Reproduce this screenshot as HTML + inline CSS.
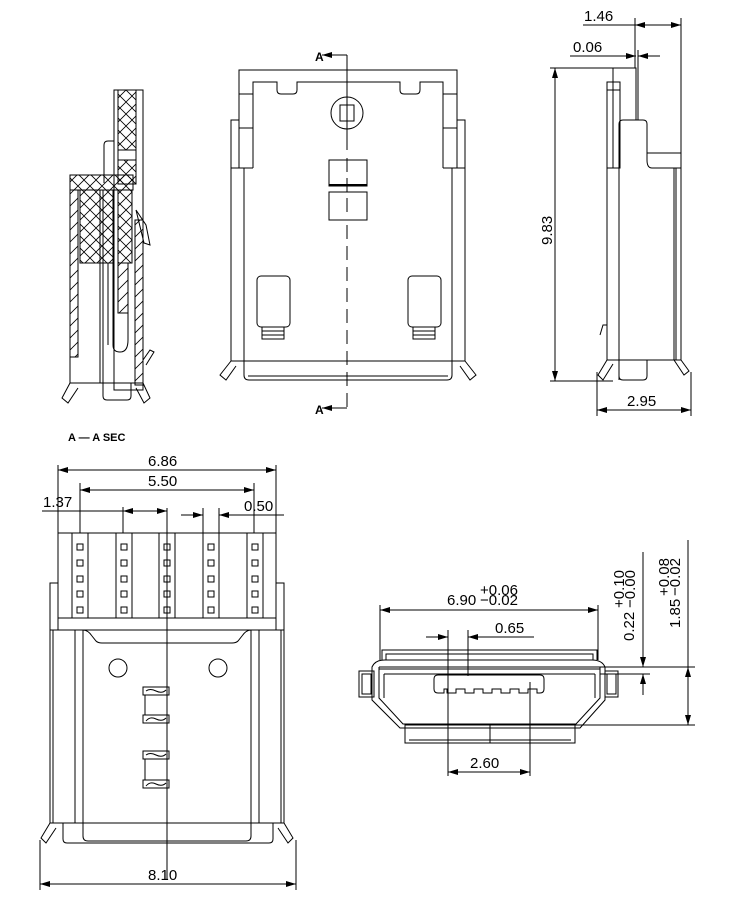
<!DOCTYPE html>
<html><head><meta charset="utf-8"><style>
html,body{margin:0;padding:0;background:#fff;}
svg{display:block;}
text{font-family:"Liberation Sans",sans-serif;fill:#000;}
</style></head><body>
<svg width="750" height="899" viewBox="0 0 750 899" xmlns="http://www.w3.org/2000/svg">
<defs>
<pattern id="xh" width="12" height="12" patternUnits="userSpaceOnUse">
<path d="M0 0L12 12M12 0L0 12" stroke="#000" stroke-width="0.8"/>
</pattern>
<pattern id="dh" width="12" height="12" patternUnits="userSpaceOnUse">
<path d="M0 12L12 0M-3 3L3 -3M9 15L15 9" stroke="#000" stroke-width="0.8"/>
</pattern>
<marker id="ar" viewBox="0 0 10 6" refX="10" refY="3" markerWidth="10" markerHeight="6" orient="auto-start-reverse" markerUnits="userSpaceOnUse">
<path d="M0 0L10 3L0 6z" fill="#000"/>
</marker>
</defs>
<g fill="none" stroke="#000" stroke-width="1">

<!-- ===== Left section view ===== -->
<rect x="114" y="90" width="29" height="300"/>
<rect x="118" y="90" width="18" height="60" fill="url(#xh)"/>
<rect x="118" y="150" width="18" height="10"/>
<rect x="118" y="160" width="18" height="24" fill="url(#xh)"/>
<path d="M104 183V145Q104 141 108 141H114"/>
<rect x="70" y="175" width="63" height="15" fill="url(#xh)"/>
<rect x="80" y="190" width="33" height="73" fill="url(#xh)"/>
<rect x="118" y="190" width="14" height="73" fill="url(#xh)"/>
<rect x="70" y="190" width="8" height="167" fill="url(#dh)"/>
<rect x="135" y="220" width="8" height="165" fill="url(#dh)"/>
<path d="M136 210L146 225L150 245L144 243Z"/>
<line x1="100" y1="190" x2="100" y2="383"/>
<line x1="103" y1="190" x2="103" y2="383"/>
<rect x="118" y="263" width="10" height="50" fill="url(#dh)"/>
<path d="M113 263V345Q113 352 120 352Q128 352 128 340V263"/>
<line x1="108" y1="263" x2="108" y2="345"/>
<path d="M70 357V383H143"/>
<path d="M103 383V396Q103 400 107 400H127Q131 400 131 396V383"/>
<path d="M70 383L62 398L68 403L78 388"/>
<path d="M143 383L150 398L144 403L136 388"/>
<path d="M143 360L150 350L154 352L146 365"/>

<text x="68" y="441" font-size="11" font-weight="bold" stroke="none">A  —  A SEC</text>

<!-- ===== Top middle view ===== -->
<path d="M239 168V70H457V168"/>
<path d="M253 168V82H277V90Q277 94 281 94H293Q297 94 297 90V82H400V90Q400 94 404 94H416Q420 94 420 90V82H443V168"/>
<line x1="239" y1="94" x2="253" y2="94"/>
<line x1="443" y1="94" x2="457" y2="94"/>
<line x1="239" y1="128" x2="253" y2="128"/>
<line x1="443" y1="128" x2="457" y2="128"/>
<path d="M231 361V120H239"/>
<path d="M465 361V120H457"/>
<line x1="231" y1="168" x2="253" y2="168"/>
<line x1="443" y1="168" x2="465" y2="168"/>
<path d="M244 168V375Q244 380 249 380H447Q452 380 452 375V168"/>
<line x1="231" y1="361" x2="465" y2="361"/>
<line x1="248" y1="376" x2="448" y2="376"/>
<circle cx="347" cy="113" r="16"/>
<rect x="340" y="105" width="14" height="16"/>
<rect x="329" y="160" width="38" height="26"/>
<line x1="329" y1="185" x2="367" y2="185" stroke-width="2"/>
<rect x="329" y="192" width="38" height="28"/>
<rect x="257" y="276" width="33" height="51" rx="4"/>
<rect x="262" y="327" width="22" height="12"/>
<line x1="262" y1="331" x2="284" y2="331"/>
<line x1="262" y1="335" x2="284" y2="335"/>
<rect x="408" y="276" width="33" height="51" rx="4"/>
<rect x="413" y="327" width="22" height="12"/>
<line x1="413" y1="331" x2="435" y2="331"/>
<line x1="413" y1="335" x2="435" y2="335"/>
<path d="M231 361L220 375L226 380L236 366"/>
<path d="M465 361L476 375L470 380L460 366"/>
<line x1="347" y1="55" x2="347" y2="150"/>
<line x1="347" y1="158" x2="347" y2="215" stroke-dasharray="14 6"/>
<line x1="347" y1="225" x2="347" y2="408" stroke-dasharray="14 7"/>
<line x1="347" y1="55" x2="322" y2="55" marker-end="url(#ar)"/>
<line x1="347" y1="408" x2="322" y2="408" marker-end="url(#ar)"/>

<!-- ===== Top right side view ===== -->
<line x1="583" y1="25" x2="681" y2="25"/>
<line x1="635" y1="25" x2="681" y2="25" marker-start="url(#ar)" marker-end="url(#ar)"/>
<line x1="635" y1="18" x2="635" y2="68"/>
<line x1="681" y1="18" x2="681" y2="153"/>
<line x1="570" y1="56" x2="636" y2="56" marker-end="url(#ar)"/>
<line x1="660" y1="56" x2="638" y2="56" marker-end="url(#ar)"/>
<line x1="638" y1="50" x2="638" y2="120"/>
<line x1="550" y1="68" x2="613" y2="68"/>
<line x1="550" y1="381" x2="613" y2="381"/>
<line x1="555" y1="68" x2="555" y2="381" marker-start="url(#ar)" marker-end="url(#ar)"/>
<path d="M613 168V68H636V120"/>
<rect x="607" y="82" width="13" height="86"/>
<line x1="607" y1="90" x2="620" y2="90"/>
<line x1="620" y1="90" x2="620" y2="168"/>
<path d="M619 380V124Q619 120 623 120H643Q647 120 647 124V160Q647 168 652 168H681V153H647"/>
<path d="M607 168V360H681V168"/>
<line x1="674" y1="168" x2="674" y2="360"/>
<line x1="676" y1="168" x2="676" y2="360"/>
<path d="M619 360V376Q619 380 623 380H643Q647 380 647 376V360"/>
<path d="M600 335L603 325H607"/>
<path d="M607 360L598 375L603 380L613 364"/>
<path d="M674 360L684 375L689 371L681 360"/>
<line x1="597" y1="372" x2="597" y2="416"/>
<line x1="691" y1="372" x2="691" y2="416"/>
<line x1="597" y1="410" x2="691" y2="410" marker-start="url(#ar)" marker-end="url(#ar)"/>

<!-- ===== Bottom left view ===== -->
<line x1="58" y1="465" x2="58" y2="533"/>
<line x1="276" y1="465" x2="276" y2="533"/>
<line x1="58" y1="470" x2="276" y2="470" marker-start="url(#ar)" marker-end="url(#ar)"/>
<line x1="80" y1="483" x2="80" y2="533"/>
<line x1="254" y1="483" x2="254" y2="533"/>
<line x1="80" y1="490" x2="254" y2="490" marker-start="url(#ar)" marker-end="url(#ar)"/>
<line x1="42" y1="511" x2="123" y2="511"/>
<line x1="145" y1="511" x2="123" y2="511" marker-end="url(#ar)"/>
<line x1="145" y1="511" x2="167" y2="511" marker-end="url(#ar)"/>
<line x1="123" y1="507" x2="123" y2="533"/>
<line x1="167" y1="508" x2="167" y2="880"/>
<line x1="181" y1="515" x2="203" y2="515" marker-end="url(#ar)"/>
<line x1="241" y1="515" x2="219" y2="515" marker-end="url(#ar)"/>
<line x1="219" y1="515" x2="284" y2="515"/>
<line x1="203" y1="508" x2="203" y2="533"/>
<line x1="219" y1="508" x2="219" y2="533"/>
<rect x="58" y="533" width="218" height="85"/>
<line x1="58" y1="618" x2="58" y2="630"/>
<line x1="276" y1="618" x2="276" y2="630"/>
<rect x="50" y="583" width="8" height="47"/>
<rect x="276" y="583" width="8" height="47"/>
<g>
<rect x="72" y="533" width="16" height="85"/><rect x="116" y="533" width="16" height="85"/><rect x="159" y="533" width="16" height="85"/><rect x="203" y="533" width="16" height="85"/><rect x="247" y="533" width="16" height="85"/>
</g>
<g stroke-width="1">
<rect x="77" y="544" width="6" height="6"/><rect x="77" y="560" width="6" height="6"/><rect x="77" y="576" width="6" height="6"/><rect x="77" y="591" width="6" height="6"/><rect x="77" y="607" width="6" height="6"/>
<rect x="121" y="544" width="6" height="6"/><rect x="121" y="560" width="6" height="6"/><rect x="121" y="576" width="6" height="6"/><rect x="121" y="591" width="6" height="6"/><rect x="121" y="607" width="6" height="6"/>
<rect x="164" y="544" width="6" height="6"/><rect x="164" y="560" width="6" height="6"/><rect x="164" y="576" width="6" height="6"/><rect x="164" y="591" width="6" height="6"/><rect x="164" y="607" width="6" height="6"/>
<rect x="208" y="544" width="6" height="6"/><rect x="208" y="560" width="6" height="6"/><rect x="208" y="576" width="6" height="6"/><rect x="208" y="591" width="6" height="6"/><rect x="208" y="607" width="6" height="6"/>
<rect x="252" y="544" width="6" height="6"/><rect x="252" y="560" width="6" height="6"/><rect x="252" y="576" width="6" height="6"/><rect x="252" y="591" width="6" height="6"/><rect x="252" y="607" width="6" height="6"/>
</g>
<line x1="50" y1="630" x2="284" y2="630"/>
<line x1="50" y1="630" x2="50" y2="823"/>
<line x1="53" y1="630" x2="53" y2="823"/>
<line x1="284" y1="630" x2="284" y2="823"/>
<line x1="281" y1="630" x2="281" y2="823"/>
<line x1="75" y1="630" x2="75" y2="823"/>
<line x1="259" y1="630" x2="259" y2="823"/>
<path d="M83 823V630Q88 630 92 636L96 641Q98 643 102 643H232Q236 643 238 641L242 636Q246 630 251 630V823"/>
<circle cx="118" cy="668" r="9"/>
<circle cx="218" cy="668" r="9"/>
<rect x="143" y="687" width="26" height="8"/>
<rect x="143" y="715" width="26" height="8"/>
<rect x="143" y="751" width="26" height="8"/>
<rect x="143" y="780" width="26" height="8"/>
<line x1="145" y1="695" x2="145" y2="715"/>
<line x1="145" y1="759" x2="145" y2="780"/>
<path d="M146 691Q150 688 156 691Q162 694 166 690"/>
<path d="M146 721Q150 716 156 719Q162 722 166 718"/>
<path d="M146 755Q150 752 156 755Q162 758 166 754"/>
<path d="M146 786Q150 781 156 784Q162 787 166 783"/>
<line x1="50" y1="823" x2="284" y2="823"/>
<path d="M63 823V839Q63 843 67 843H269Q273 843 273 839V823"/>
<path d="M83 823V836Q83 841 88 841H246Q251 841 251 836V823"/>
<path d="M50 823L41 838L46 843L56 828"/>
<path d="M284 823L293 838L288 843L278 828"/>
<line x1="40" y1="840" x2="40" y2="890"/>
<line x1="296" y1="840" x2="296" y2="890"/>
<line x1="40" y1="884" x2="296" y2="884" marker-start="url(#ar)" marker-end="url(#ar)"/>

<!-- ===== Bottom right view ===== -->
<line x1="380" y1="605" x2="380" y2="660"/>
<line x1="598" y1="605" x2="598" y2="660"/>
<line x1="380" y1="610" x2="598" y2="610" marker-start="url(#ar)" marker-end="url(#ar)"/>
<line x1="426" y1="637" x2="448" y2="637" marker-end="url(#ar)"/>
<line x1="534" y1="637" x2="468" y2="637" marker-end="url(#ar)"/>
<line x1="448" y1="630" x2="448" y2="776"/>
<line x1="468" y1="630" x2="468" y2="676"/>
<line x1="530" y1="682" x2="530" y2="776"/>
<line x1="448" y1="772" x2="530" y2="772" marker-start="url(#ar)" marker-end="url(#ar)"/>
<path d="M382 660V650H597V660"/>
<path d="M386 660V654H593V660"/>
<path d="M372 667Q375 660 385 660H592Q602 660 605 667V700L580 728H400L372 700Z"/>
<path d="M379 667V698L403 724H576L600 698V667"/>
<line x1="379" y1="667" x2="600" y2="667"/>
<line x1="379" y1="669" x2="600" y2="669"/>
<line x1="384" y1="674" x2="595" y2="674"/>
<line x1="384" y1="674" x2="384" y2="698"/>
<line x1="595" y1="674" x2="595" y2="698"/>
<rect x="359" y="671" width="15" height="26"/>
<rect x="362" y="674" width="9" height="20"/>
<rect x="605" y="671" width="13" height="26"/>
<rect x="607" y="674" width="9" height="20"/>
<rect x="405" y="725" width="170" height="18"/>
<line x1="409" y1="740" x2="571" y2="740"/>
<line x1="490" y1="725" x2="490" y2="743"/>
<path d="M438 675H540Q544 675 544 679V689Q544 693 540 693H537V689H528V693H519V689H510V693H501V689H492V693H483V689H474V693H465V689H456V693H447V689H444V693H438Q434 693 434 689V679Q434 675 438 675Z"/>
<line x1="600" y1="667" x2="695" y2="667"/>
<line x1="600" y1="674" x2="650" y2="674"/>
<line x1="575" y1="725" x2="695" y2="725"/>
<line x1="643" y1="552" x2="643" y2="667" marker-end="url(#ar)"/>
<line x1="643" y1="695" x2="643" y2="674" marker-end="url(#ar)"/>
<line x1="688" y1="540" x2="688" y2="667"/>
<line x1="688" y1="667" x2="688" y2="725" marker-start="url(#ar)" marker-end="url(#ar)"/>
</g>

<!-- ===== Texts ===== -->
<g stroke="none">
<text x="315" y="61" font-size="12" font-weight="bold">A</text>
<text x="315" y="414" font-size="12" font-weight="bold">A</text>
<text x="584" y="21" font-size="15">1.46</text>
<text x="573" y="52" font-size="15">0.06</text>
<text transform="translate(552,245) rotate(-90)" font-size="15">9.83</text>
<text x="627" y="406" font-size="15">2.95</text>
<text x="148" y="466" font-size="15">6.86</text>
<text x="148" y="486" font-size="15">5.50</text>
<text x="43" y="507" font-size="15">1.37</text>
<text x="244" y="511" font-size="15">0.50</text>
<text x="148" y="880" font-size="15">8.10</text>
<text x="447" y="605" font-size="15">6.90</text>
<text x="480" y="595" font-size="15">+0.06</text>
<text x="480" y="605" font-size="15">−0.02</text>
<text x="495" y="633" font-size="15">0.65</text>
<text x="470" y="768" font-size="15">2.60</text>
<text transform="translate(634,641) rotate(-90)" font-size="15">0.22</text>
<text transform="translate(624,608) rotate(-90)" font-size="15">+0.10</text>
<text transform="translate(635,608) rotate(-90)" font-size="15">−0.00</text>
<text transform="translate(680,628) rotate(-90)" font-size="15">1.85</text>
<text transform="translate(669,596) rotate(-90)" font-size="15">+0.08</text>
<text transform="translate(680,596) rotate(-90)" font-size="15">−0.02</text>
</g>
</svg>
</body></html>
